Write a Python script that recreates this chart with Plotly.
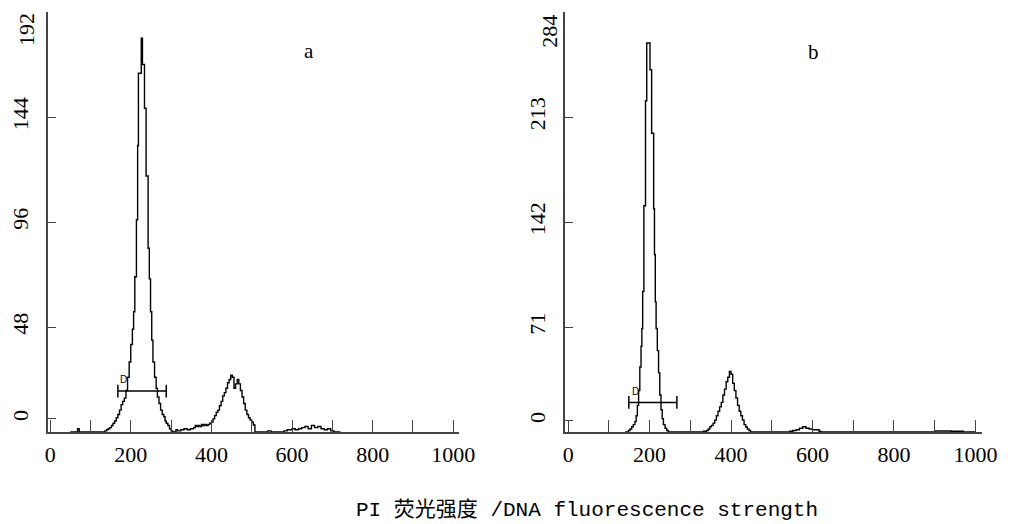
import plotly.graph_objects as go

# ---------------- data ----------------
# Panel a: DNA histogram (bin left edge, cell count)
a_channel = [50, 68, 72, 136, 140, 144, 148, 152, 156, 160, 164, 168, 172, 176, 180, 184, 188, 192,
             196, 200, 204, 207, 210, 214, 217, 219, 226, 229, 234, 238, 243, 246, 249, 252, 255,
             259, 263, 266, 270, 274, 278, 282, 285, 288, 292, 296, 300, 304, 312, 316, 324, 332,
             340, 348, 356, 360, 364, 368, 372, 376, 380, 384, 388, 392, 396, 400, 404, 408, 412,
             416, 420, 424, 428, 432, 436, 440, 444, 448, 452, 456, 460, 464, 468, 472, 476, 480,
             484, 488, 492, 496, 500, 504, 508, 540, 548, 580, 588, 600, 608, 616, 624, 632, 640,
             648, 656, 664, 672, 680, 688, 696, 704, 720]
a_count = [0, 1.5, 0, 0.5, 1, 1.5, 2, 3, 4, 5, 6.5, 8, 10, 12.5, 14, 15.5, 19, 25,
           32, 40, 47, 55, 71, 97, 131, 164, 180, 168, 148, 117, 84, 70, 55, 42, 32,
           25, 20, 16, 13, 10, 8, 7, 5, 4, 3, 1.5, 0.5, 0, 1, 0.5, 1, 1.5,
           1, 1.5, 2, 3, 2.5, 3, 2.5, 3.5, 3, 3.5, 3, 3.5, 4, 4.5, 6, 7.5, 9,
           10, 12, 14, 16.5, 18, 20, 22.5, 24, 26, 25, 20, 22, 24, 22, 19, 16, 13,
           10, 8, 6.5, 5.5, 4.5, 3.2, 0, 0.5, 0, 0.5, 1, 1.5, 1, 1.5, 2, 2.5, 1.5,
           3, 2, 2.5, 1.5, 1, 1.5, 0.5, 0, 0]

# Panel b
b_channel = [140, 148, 152, 156, 160, 164, 167, 170, 173, 176, 179, 181, 183, 186, 190, 193, 201,
             205, 210, 212, 214, 216, 219, 222, 225, 228, 231, 234, 238, 242, 246, 328, 332, 340,
             344, 348, 352, 356, 360, 364, 368, 372, 376, 380, 384, 388, 392, 396, 400, 404, 408,
             412, 416, 420, 424, 428, 432, 436, 440, 444, 448, 544, 552, 560, 568, 576, 584, 592,
             600, 608, 616, 620, 900, 940, 970, 1000]
b_count = [0, 1, 2, 3.5, 5, 7, 11, 18, 28, 44, 58, 70, 95, 153, 224, 263, 245,
           202, 151, 120, 88, 70, 55, 40, 25, 15, 9, 5, 2.5, 1, 0, 0, 0.5, 1,
           2, 3.5, 4.5, 6, 8, 11, 14, 17, 20, 25, 29, 34, 37, 41, 39, 33, 28,
           23, 18, 14, 11, 8, 5, 3.4, 2, 1, 0, 0.5, 1, 1.5, 2.5, 3.5, 2.5, 2,
           1.5, 1.5, 0.5, 0, 0.7, 0.5, 0, 0]

# gate markers "D"
a_gate = [168, 288]
a_gate_level = 18.7
b_gate = [149, 267]
b_gate_level = 20

# tick labels
x_tickvals = [0, 200, 400, 600, 800, 1000]
x_ticktext = ["0", "200", "400", "600", "800", "1000"]
x_minor_tickvals = [100, 300, 500, 700, 900]
a_ytickvals = [6, 48, 96, 144, 192]
a_yticktext = ["0", "48", "96", "144", ""]
a_ytop = ("192", 184)      # top label drawn slightly below its tick, as in the original
b_ytickvals = [7.5, 71, 142, 213, 284]
b_yticktext = ["0", "71", "142", "213", ""]
b_ytop = ("284", 271)

panel_labels = ["a", "b"]
x_title = "PI 荧光强度 /DNA fluorescence strength"

# ---------------- figure ----------------
W, H = 1016, 524
fig = go.Figure()

LINE = dict(color="black", width=1.4, shape="hv")
fig.add_trace(go.Scatter(x=a_channel, y=a_count, mode="lines", line=LINE,
                         xaxis="x", yaxis="y", showlegend=False, hoverinfo="skip"))
fig.add_trace(go.Scatter(x=b_channel, y=b_count, mode="lines", line=LINE,
                         xaxis="x2", yaxis="y2", showlegend=False, hoverinfo="skip"))

for g, lvl, xa, ya in [(a_gate, a_gate_level, "x", "y"), (b_gate, b_gate_level, "x2", "y2")]:
    fig.add_trace(go.Scatter(x=g, y=[lvl, lvl], mode="lines+markers",
                             line=dict(color="black", width=1.5),
                             marker=dict(symbol="line-ns-open", size=9,
                                         line=dict(color="black", width=1.5)),
                             xaxis=xa, yaxis=ya, showlegend=False, hoverinfo="skip"))

def px_x(p):
    return p / W

def px_y(p):
    return (H - p) / H

AX = dict(showline=True, linecolor="#444", linewidth=1.5, showgrid=False, zeroline=False,
          ticks="inside", tickcolor="#444", tickwidth=1.2)
TFONT = dict(family="Liberation Serif, DejaVu Serif, serif", size=22, color="black")

xcommon = dict(AX, tickvals=x_tickvals, ticktext=x_ticktext, ticklen=12, tickfont=TFONT,
               ticklabelstandoff=2,
               minor=dict(tickvals=x_minor_tickvals, ticks="inside", ticklen=12,
                          tickcolor="#444", tickwidth=1.2))
ycommon = dict(AX, ticklen=8, tickangle=-90, tickfont=TFONT, ticklabelstandoff=10)

ydom = [px_y(432), px_y(12)]
fig.update_layout(
    width=W, height=H, autosize=False,
    margin=dict(l=0, r=0, t=0, b=0),
    paper_bgcolor="white", plot_bgcolor="white",
    xaxis=dict(xcommon, domain=[px_x(46), px_x(465)], range=[-5, 1015], anchor="y"),
    yaxis=dict(ycommon, domain=ydom, range=[0, 192], tickvals=a_ytickvals,
               ticktext=a_yticktext, anchor="x"),
    xaxis2=dict(xcommon, domain=[px_x(573), px_x(998)], range=[-7, 1017], anchor="y2"),
    yaxis2=dict(ycommon, domain=ydom, range=[0, 284], tickvals=b_ytickvals,
                ticktext=b_yticktext, anchor="x2"),
)

# top y labels
fig.add_annotation(x=px_x(24), y=a_ytop[1], xref="paper", yref="y", text=a_ytop[0],
                   xanchor="center", yanchor="middle",
                   textangle=-90, showarrow=False, font=TFONT)
fig.add_annotation(x=px_x(557), y=b_ytop[1], xref="paper", yref="y2", text=b_ytop[0],
                   xanchor="center", yanchor="middle",
                   textangle=-90, showarrow=False, font=TFONT)

fig.add_annotation(x=642, y=174, xref="x", yref="y", text=panel_labels[0], showarrow=False,
                   xanchor="center", yanchor="middle",
                   font=dict(family="Liberation Serif, serif", size=21, color="black"))
fig.add_annotation(x=602, y=257, xref="x2", yref="y2", text=panel_labels[1], showarrow=False,
                   xanchor="center", yanchor="middle",
                   font=dict(family="Liberation Serif, serif", size=21, color="black"))
fig.add_annotation(x=182, y=24, xref="x", yref="y", text="D", showarrow=False,
                   xanchor="center", yanchor="middle",
                   font=dict(family="Liberation Sans, sans-serif", size=10, color="black"))
fig.add_annotation(x=166, y=27.5, xref="x2", yref="y2", text="D", showarrow=False,
                   xanchor="center", yanchor="middle",
                   font=dict(family="Liberation Sans, sans-serif", size=10, color="black"))

fig.add_annotation(x=px_x(595), y=px_y(510), xref="paper", yref="paper", text=x_title,
                   showarrow=False, xanchor="center", yanchor="middle",
                   font=dict(family="Liberation Mono, Noto Sans CJK SC, monospace", size=21,
                             color="black"))

post = ("document.documentElement.style.overflow='hidden';"
        "document.body.style.margin='0px';document.body.style.overflow='hidden';")
fig.write_html("out.html", post_script=post,
               config={"displayModeBar": False, "responsive": False})
